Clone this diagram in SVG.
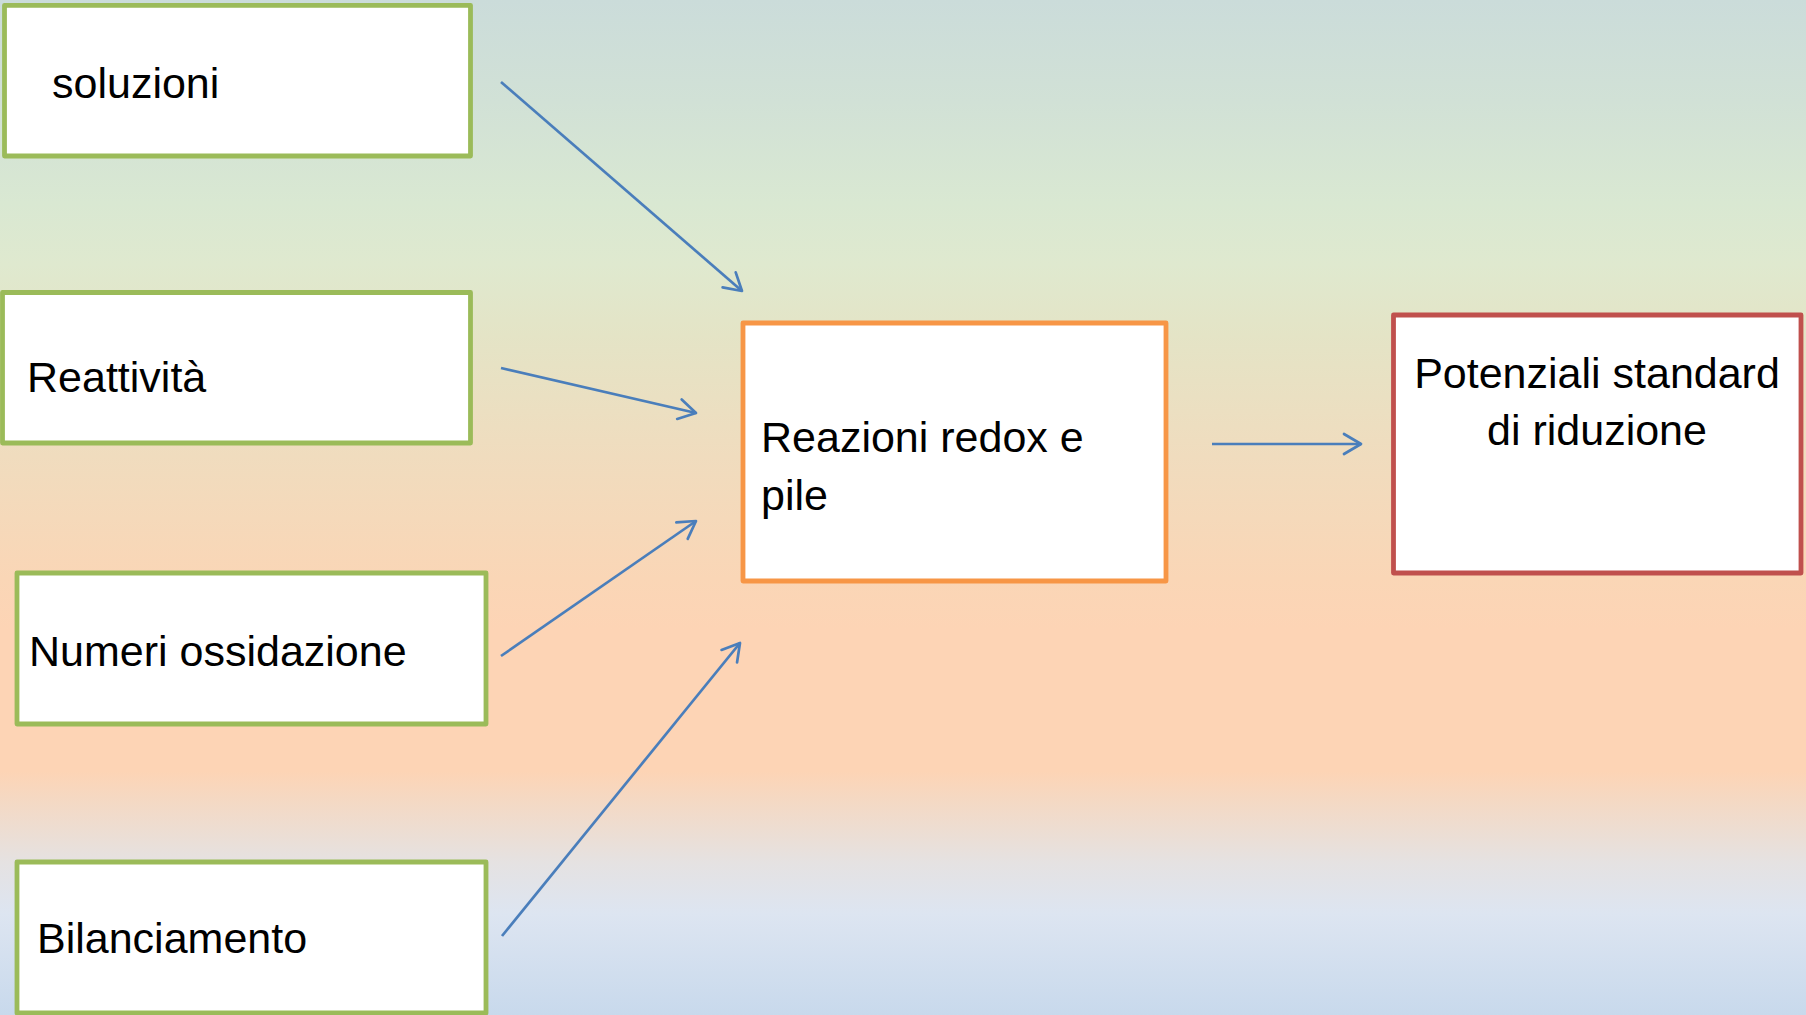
<svg xmlns="http://www.w3.org/2000/svg" width="1806" height="1015" viewBox="0 0 1806 1015">
  <style>
    .box { fill: #ffffff; stroke-width: 4.8; stroke-linejoin: round; }
    .green { stroke: #9bbb59; }
    .orange { stroke: #f79646; }
    .red { stroke: #c0504d; }
    .lbl { font-family: "Liberation Sans", Arial, sans-serif; font-size: 43px; fill: #000000; }
    .conn { stroke: #4a7ebb; stroke-width: 2.7; fill: none; marker-end: url(#arr); }
  </style>
  <defs>
    <linearGradient id="bg" x1="0" y1="0" x2="0" y2="1">
      <stop offset="0" stop-color="#cbdcda"/>
      <stop offset="0.1" stop-color="#d1e1d6"/>
      <stop offset="0.2" stop-color="#d9e8d2"/>
      <stop offset="0.26" stop-color="#dfe9cf"/>
      <stop offset="0.33" stop-color="#e4e4c6"/>
      <stop offset="0.45" stop-color="#f0dcbe"/>
      <stop offset="0.57" stop-color="#fad6b6"/>
      <stop offset="0.62" stop-color="#fdd4b5"/>
      <stop offset="0.76" stop-color="#fdd4b5"/>
      <stop offset="0.79" stop-color="#f4d9c4"/>
      <stop offset="0.85" stop-color="#e5e2e2"/>
      <stop offset="0.9" stop-color="#dde5f1"/>
      <stop offset="1" stop-color="#c8d9ec"/>
    </linearGradient>
    <marker id="arr" markerUnits="userSpaceOnUse" viewBox="-22 -14 26 28" markerWidth="26" markerHeight="28" refX="0" refY="0" orient="auto" overflow="visible">
      <path d="M-17,-10 L0,0 L-17,10" fill="none" stroke="#4a7ebb" stroke-width="2.7" stroke-linejoin="round" stroke-linecap="round"/>
    </marker>
  </defs>
  <rect x="0" y="0" width="1806" height="1015" fill="url(#bg)"/>

  <g id="connectors">
    <line class="conn" x1="501" y1="82" x2="742" y2="291"/>
    <line class="conn" x1="501" y1="368" x2="696" y2="413"/>
    <line class="conn" x1="501" y1="656" x2="696" y2="521"/>
    <line class="conn" x1="502" y1="936" x2="740" y2="643"/>
    <line class="conn" x1="1212" y1="444" x2="1361" y2="444"/>
  </g>

  <g id="node-soluzioni">
    <rect class="box green" x="4.5" y="5.3" width="466" height="150.7"/>
    <text class="lbl" x="52" y="98">soluzioni</text>
  </g>
  <g id="node-reattivita">
    <rect class="box green" x="2.5" y="292.5" width="468" height="150.5"/>
    <text class="lbl" x="27" y="392">Reattività</text>
  </g>
  <g id="node-numeri">
    <rect class="box green" x="17" y="573" width="469" height="151"/>
    <text class="lbl" x="29" y="666">Numeri ossidazione</text>
  </g>
  <g id="node-bilanciamento">
    <rect class="box green" x="17" y="862" width="469" height="151"/>
    <text class="lbl" x="37" y="953">Bilanciamento</text>
  </g>
  <g id="node-redox">
    <rect class="box orange" x="743" y="323" width="423" height="258"/>
    <text class="lbl" x="761" y="452">Reazioni redox e</text>
    <text class="lbl" x="761" y="510">pile</text>
  </g>
  <g id="node-potenziali">
    <rect class="box red" x="1393.5" y="315" width="407.5" height="258"/>
    <text class="lbl" x="1597" y="388" text-anchor="middle">Potenziali standard</text>
    <text class="lbl" x="1597" y="445" text-anchor="middle">di riduzione</text>
  </g>
</svg>
